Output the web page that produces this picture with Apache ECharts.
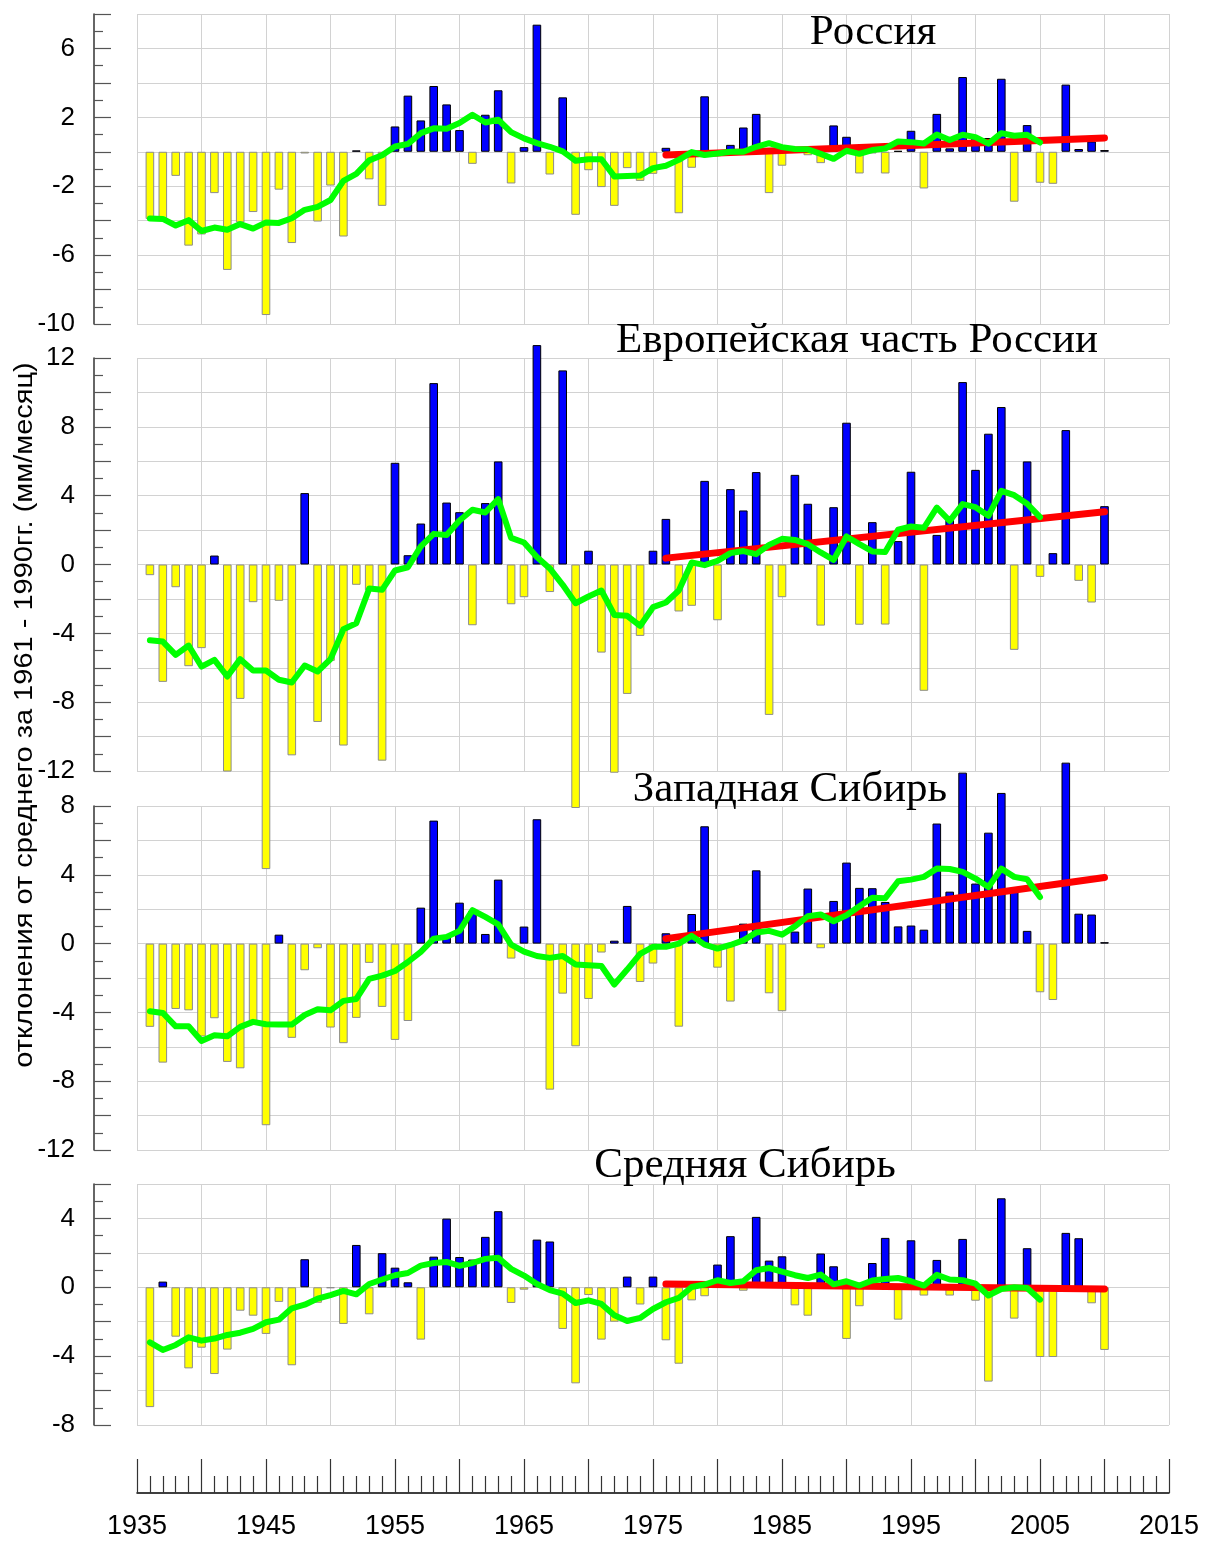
<!DOCTYPE html>
<html>
<head>
<meta charset="utf-8">
<script src="https://cdn.jsdelivr.net/npm/echarts@6/dist/echarts.min.js"></script>
<style>
  html, body { margin: 0; padding: 0; background: #fff; }
  #chart { width: 1205px; height: 1541px; }
</style>
</head>
<body>
<div id="chart"></div>
<script>
// Years of the annual anomaly bars (1936–2010) and of the smoothed curves (1936–2005)
const years = Array.from({ length: 75 }, (_, i) => 1936 + i);
const smoothYears = years.slice(0, 70);
const trendYears = [1976, 2010];

// Panel titles
const titles = ['Россия', 'Европейская часть России', 'Западная Сибирь', 'Средняя Сибирь'];
const yAxisTitle = 'отклонения от среднего за 1961 - 1990гг. (мм/месяц)';

// Annual precipitation anomalies, mm/month
const russiaBars = [
  -3.9, -3.9, -1.4, -5.45, -4.8, -2.4, -6.86, -4.1, -3.5, -9.48,
  -2.2, -5.3, -0.1, -4.05, -1.96, -4.92, 0.08, -1.6, -3.14, 1.47,
  3.26, 1.82, 3.82, 2.75, 1.26, -0.7, 2.15, 3.57, -1.84, 0.27,
  7.38, -1.32, 3.16, -3.66, -1.07, -2.05, -3.14, -0.95, -1.69, -1.28,
  0.23, -3.57, -0.93, 3.22, 0.1, 0.4, 1.41, 2.2, -2.4, -0.81,
  0.05, -0.2, -0.66, 1.53, 0.87, -1.26, -0.1, -1.26, 0.05, 1.22,
  -2.13, 2.2, 0.2, 4.34, 0.9, 0.8, 4.24, -2.9, 1.55, -1.8,
  -1.86, 3.9, 0.16, 0.6, 0.1
];
const europeBars = [
  -0.62, -6.82, -1.32, -5.91, -4.86, 0.52, -12.03, -7.81, -2.19, -17.7,
  -2.11, -11.09, 4.15, -9.15, -5.6, -10.52, -1.18, -1.5, -11.4, 5.91,
  0.54, 2.38, 10.54, 3.6, 3.04, -3.53, 3.57, 5.99, -2.31, -1.9,
  12.75, -1.6, 11.28, -14.15, 0.8, -5.12, -12.1, -7.52, -4.15, 0.8,
  2.65, -2.73, -2.4, 4.86, -3.24, 4.38, 3.14, 5.37, -8.74, -1.9,
  5.21, 3.53, -3.55, 3.33, 8.24, -3.5, 2.46, -3.49, 1.36, 5.39,
  -7.34, 1.72, 2.6, 10.6, 5.5, 7.6, 9.15, -4.96, 5.99, -0.72,
  0.66, 7.81, -0.95, -2.21, 3.39
];
const westBars = [
  -4.84, -6.92, -3.8, -3.88, -5.4, -4.34, -6.88, -7.25, -4.6, -10.56,
  0.52, -5.48, -1.55, -0.27, -4.88, -5.79, -4.32, -1.12, -3.68, -5.6,
  -4.5, 2.09, 7.15, 0.4, 2.38, 1.9, 0.56, 3.72, -0.87, 0.99,
  7.23, -8.49, -2.91, -5.97, -3.22, -0.52, 0.17, 2.19, -2.23, -1.16,
  0.6, -4.83, 1.72, 6.82, -1.4, -3.37, 1.16, 4.26, -2.89, -3.93,
  0.7, 3.2, -0.27, 2.48, 4.71, 3.24, 3.22, 2.42, 1.0, 1.05,
  0.81, 6.98, 3.02, 9.94, 3.49, 6.45, 8.76, 3.2, 0.74, -2.83,
  -3.28, 10.52, 1.74, 1.69, 0.08
];
const centralBars = [
  -6.96, 0.33, -2.87, -4.71, -3.51, -5.04, -3.62, -1.36, -1.65, -2.71,
  -0.85, -4.53, 1.63, -0.9, -0.05, -2.13, 2.46, -1.57, 1.98, 1.14,
  0.29, -3.04, 1.78, 3.99, 1.76, 1.61, 2.93, 4.42, -0.91, -0.14,
  2.77, 2.66, -2.42, -5.58, -0.45, -3.04, -2.0, 0.62, -1.0, 0.62,
  -3.08, -4.44, -0.76, -0.52, 1.32, 2.97, -0.2, 4.09, 1.55, 1.8,
  -1.05, -1.65, 1.96, 1.22, -3.0, -1.1, 1.41, 2.87, -1.88, 2.73,
  -0.48, 1.59, -0.48, 2.81, -0.78, -5.48, 5.17, -1.82, 2.27, -4.05,
  -4.05, 3.16, 2.85, -0.93, -3.64
];

// Smoothed anomalies (green curves)
const russiaSmooth = [
  -3.88, -3.9, -4.28, -3.97, -4.6, -4.4, -4.53, -4.2, -4.46, -4.1,
  -4.13, -3.86, -3.37, -3.2, -2.8, -1.69, -1.28, -0.5, -0.2, 0.31,
  0.45, 1.08, 1.36, 1.34, 1.67, 2.15, 1.7, 1.86, 1.14, 0.78,
  0.5, 0.29, 0.02, -0.52, -0.43, -0.43, -1.43, -1.4, -1.38, -0.95,
  -0.81, -0.47, -0.02, -0.19, -0.1, 0, 0, 0.29, 0.5, 0.27,
  0.16, 0.14, -0.12, -0.41, 0.06, -0.12, 0.1, 0.19, 0.6, 0.56,
  0.48, 1.0, 0.68, 0.99, 0.85, 0.47, 1.08, 0.93, 0.99, 0.54
];
const europeSmooth = [
  -4.4, -4.48, -5.25, -4.71, -5.93, -5.54, -6.51, -5.5, -6.16, -6.16,
  -6.7, -6.86, -5.87, -6.22, -5.5, -3.76, -3.41, -1.4, -1.47, -0.35,
  -0.16, 1.05, 1.78, 1.71, 2.56, 3.18, 3.02, 3.8, 1.55, 1.28,
  0.43, -0.23, -1.18, -2.25, -1.86, -1.51, -2.93, -2.98, -3.57, -2.48,
  -2.21, -1.51, 0.12, -0.04, 0.21, 0.66, 0.78, 0.6, 1.14, 1.49,
  1.43, 1.18, 0.7, 0.27, 1.63, 1.18, 0.76, 0.72, 2.02, 2.21,
  2.13, 3.31, 2.54, 3.51, 3.33, 2.83, 4.28, 4.03, 3.53, 2.75
];
const westSmooth = [
  -3.93, -4.03, -4.81, -4.81, -5.66, -5.33, -5.39, -4.84, -4.55, -4.69,
  -4.71, -4.71, -4.15, -3.82, -3.88, -3.33, -3.22, -2.05, -1.86, -1.59,
  -1.07, -0.48, 0.29, 0.39, 0.74, 1.94, 1.55, 1.12, -0.06, -0.47,
  -0.72, -0.83, -0.72, -1.22, -1.26, -1.3, -2.38, -1.51, -0.6, -0.19,
  -0.19, 0, 0.45, -0.06, -0.29, -0.08, 0.19, 0.64, 0.74, 0.52,
  1.0, 1.59, 1.69, 1.3, 1.65, 2.17, 2.67, 2.64, 3.62, 3.72,
  3.88, 4.36, 4.34, 4.17, 3.78, 3.29, 4.36, 3.88, 3.74, 2.71
];
const centralSmooth = [
  -3.2, -3.64, -3.35, -2.91, -3.1, -2.98, -2.77, -2.64, -2.42, -2.03,
  -1.88, -1.22, -1.01, -0.66, -0.45, -0.21, -0.41, 0.19, 0.45, 0.7,
  0.83, 1.26, 1.41, 1.47, 1.24, 1.41, 1.65, 1.71, 1.07, 0.68,
  0.19, -0.16, -0.37, -0.91, -0.76, -0.97, -1.63, -1.96, -1.78, -1.26,
  -0.87, -0.62, 0.02, 0.16, 0.41, 0.25, 0.35, 0.99, 1.12, 0.91,
  0.7, 0.54, 0.74, 0.17, 0.35, 0.1, 0.39, 0.48, 0.54, 0.35,
  0.1, 0.72, 0.45, 0.41, 0.21, -0.48, -0.1, 0, -0.04, -0.72
];

// Linear trends 1976–2010 (red lines), values at the two end years
const russiaTrend = [-0.18, 0.8];
const europeTrend = [0.37, 3.06];
const westTrend = [0.29, 3.84];
const centralTrend = [0.19, -0.1];

// Value axis ranges of each panel
const yRanges = [[-10, 8], [-12, 12], [-12, 8], [-8, 6]];

// Layout of the four stacked panels (pixels)
const layout = [
  { top: 14, height: 310, title: [873, 33] },
  { top: 358, height: 413, title: [857, 341] },
  { top: 806, height: 344, title: [790, 790] },
  { top: 1184, height: 241, title: [745, 1166] }
];

const barSets = [russiaBars, europeBars, westBars, centralBars];
const smoothSets = [russiaSmooth, europeSmooth, westSmooth, centralSmooth];
const trendSets = [russiaTrend, europeTrend, westTrend, centralTrend];

const FONT_SANS = '"Liberation Sans", Arial, sans-serif';
const FONT_SERIF = '"Liberation Serif", "Times New Roman", serif';
const GRID_COLOR = '#d2d2d2';
const AXIS_COLOR = '#333';

const posStyle = { color: '#0000ff', borderColor: '#000', borderWidth: 1 };
const negStyle = { color: '#ffff00', borderColor: '#8c8c8c', borderWidth: 1 };

const grids = [], xAxes = [], yAxes = [], series = [], graphics = [];

layout.forEach((p, i) => {
  const [ymin, ymax] = yRanges[i];
  grids.push({ left: 137, right: 36, top: p.top, height: p.height });
  xAxes.push({
    gridIndex: i, type: 'value', min: 1935, max: 2015, interval: 5,
    axisLine: { show: false }, axisTick: { show: false }, axisLabel: { show: false },
    splitLine: { show: true, lineStyle: { color: GRID_COLOR, width: 1 } }
  });
  yAxes.push({
    gridIndex: i, type: 'value', min: ymin, max: ymax, interval: 2, offset: 43,
    axisLine: { show: true, onZero: false, lineStyle: { color: AXIS_COLOR, width: 1.5 } },
    axisTick: { show: true, inside: true, length: 17, lineStyle: { color: '#555', width: 1.2 } },
    minorTick: { show: true, splitNumber: 2, length: 9, lineStyle: { color: '#555', width: 1.2 } },
    axisLabel: {
      showMinLabel: true, showMaxLabel: true,
      formatter: v => ((v - ymin) % 4 === 0 ? String(v) : ''),
      fontSize: 26, color: '#000', fontFamily: FONT_SANS, margin: 19
    },
    splitLine: { show: true, lineStyle: { color: GRID_COLOR, width: 1 } }
  });

  const vals = barSets[i];
  series.push({
    type: 'bar', xAxisIndex: i, yAxisIndex: i, barWidth: 8.6, clip: false, z: 2,
    data: years.map((y, k) => ({ value: [y, vals[k]], itemStyle: vals[k] >= 0 ? posStyle : negStyle }))
  });
  series.push({
    type: 'line', xAxisIndex: i, yAxisIndex: i, symbol: 'none', z: 3, clip: false,
    lineStyle: { color: '#ff0000', width: 7, cap: 'round' },
    data: trendYears.map((y, k) => [y, trendSets[i][k]])
  });
  series.push({
    type: 'line', xAxisIndex: i, yAxisIndex: i, symbol: 'none', z: 4, clip: false,
    lineStyle: { color: '#00ff00', width: 6, join: 'round', cap: 'round' },
    data: smoothYears.map((y, k) => [y, smoothSets[i][k]])
  });

  graphics.push({
    type: 'text', z: 10,
    style: {
      text: titles[i], x: p.title[0], y: p.title[1],
      textAlign: 'center', textVerticalAlign: 'middle',
      font: '43px ' + FONT_SERIF, fill: '#000'
    }
  });
});

// Shared year scale at the bottom: long ticks every 5 years, short ticks every year
grids.push({ left: 137, right: 36, top: 1440, height: 53 });
xAxes.push({
  gridIndex: 4, type: 'value', min: 1935, max: 2015, interval: 5, position: 'bottom',
  axisLine: { show: true, lineStyle: { color: '#000', width: 1.5 } },
  axisTick: { show: true, inside: true, length: 34, lineStyle: { color: '#333', width: 1.2 } },
  minorTick: { show: true, splitNumber: 5, length: 17, lineStyle: { color: '#333', width: 1.2 } },
  axisLabel: {
    showMinLabel: true, showMaxLabel: true,
    formatter: v => ((v - 1935) % 10 === 0 ? String(v) : ''),
    fontSize: 27, color: '#000', fontFamily: FONT_SANS, margin: 20
  },
  splitLine: { show: false }
});
yAxes.push({ gridIndex: 4, type: 'value', min: 0, max: 1, show: false });
series.push({ type: 'scatter', xAxisIndex: 4, yAxisIndex: 4, data: [], silent: true });

graphics.push({
  type: 'text', x: 25, y: 715, rotation: Math.PI / 2, scaleX: 1.16, z: 10,
  style: {
    text: yAxisTitle, x: 0, y: 0, textAlign: 'center', textVerticalAlign: 'middle',
    font: '25px ' + FONT_SANS, fill: '#000'
  }
});

const chart = echarts.init(document.getElementById('chart'), null, { renderer: 'canvas' });
chart.setOption({
  animation: false,
  backgroundColor: '#fff',
  grid: grids,
  xAxis: xAxes,
  yAxis: yAxes,
  series: series,
  graphic: graphics
});
</script>
</body>
</html>
